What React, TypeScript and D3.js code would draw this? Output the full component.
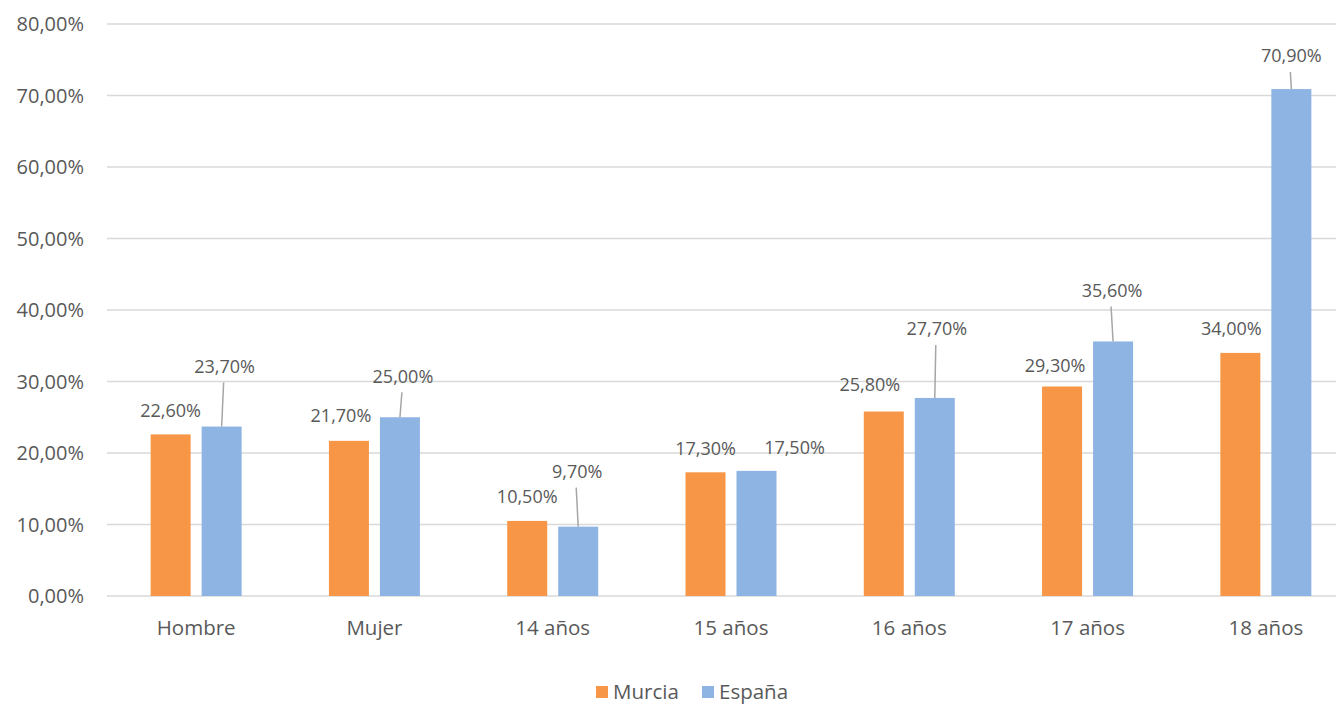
import React from "react";
import * as d3 from "d3";

const categories = ["Hombre", "Mujer", "14 años", "15 años", "16 años", "17 años", "18 años"];
const seriesNames = ["Murcia", "España"];
const murcia = [0.226, 0.217, 0.105, 0.173, 0.258, 0.293, 0.34];
const espana = [0.237, 0.25, 0.097, 0.175, 0.277, 0.356, 0.709];
const yTicks = [0, 0.1, 0.2, 0.3, 0.4, 0.5, 0.6, 0.7, 0.8];
const colors = ["#F79646", "#8EB4E3"];

// label placement offsets (styling): dx, dy relative to bar top-center
const murciaLabelOffsets = [
  [0, -24], [-8, -25], [0, -24], [0, -24], [-14, -27], [-7, -21], [-9, -24],
];
const espanaLabelOffsets = [
  [3, -60], [3, -41], [-1, -55], [38, -23], [2, -69], [-1, -51], [0, -33],
];

const W = 1336;
const H = 705;
const FONT = "'Open Sans', 'Liberation Sans', sans-serif";
const TEXT = "#595959";

export default function App() {
  const x = d3.scaleBand<string>().domain(categories).range([107, 1355]).paddingInner(0).paddingOuter(0);
  const xs = d3
    .scaleBand<string>()
    .domain(seriesNames)
    .range([0, x.bandwidth()])
    .paddingInner(11 / 51)
    .paddingOuter(0.856);
  const y = d3.scaleLinear().domain([0, 0.8]).range([596, 24]);
  const loc = d3.formatLocale({ decimal: ",", thousands: ".", grouping: [3], currency: ["", "€"] });
  const fmt = loc.format(".2%");
  const values = [murcia, espana];
  const offsets = [murciaLabelOffsets, espanaLabelOffsets];

  return (
    <svg width={W} height={H} style={{ position: "absolute", left: 0, top: 0, background: "#fff" }} fontFamily={FONT}>
      <rect width={W} height={H} fill="#fff" />
      {yTicks.map((t) => (
        <g key={t}>
          <line x1={107} x2={W} y1={y(t)} y2={y(t)} stroke="#D9D9D9" strokeWidth={1.5} />
          <text x={84} y={y(t)} dy="0.35em" textAnchor="end" fontSize={20} fill={TEXT}>
            {fmt(t)}
          </text>
        </g>
      ))}
      {values.map((vals, si) =>
        vals.map((v, ci) => {
          const bx = (x(categories[ci]) as number) + (xs(seriesNames[si]) as number);
          const bw = xs.bandwidth();
          const cx = bx + bw / 2;
          const top = y(v);
          const [dx, dy] = offsets[si][ci];
          const lx = cx + dx;
          const ly = top + dy;
          const showLeader = si === 1 && -dy > 30;
          return (
            <g key={`${si}-${ci}`}>
              <rect x={bx} y={top} width={bw} height={y(0) - top} fill={colors[si]} />
              {showLeader && (
                <line x1={lx - 1} y1={ly + 16} x2={cx} y2={top} stroke="#A6A6A6" strokeWidth={1.5} />
              )}
              <text x={lx} y={ly} dy="0.35em" textAnchor="middle" fontSize={18} fill={TEXT}>
                {fmt(v)}
              </text>
            </g>
          );
        })
      )}
      {categories.map((c) => (
        <text
          key={c}
          x={(x(c) as number) + x.bandwidth() / 2}
          y={628}
          dy="0.35em"
          textAnchor="middle"
          fontSize={20.5}
          fill={TEXT}
        >
          {c}
        </text>
      ))}
      {seriesNames.map((s, i) => {
        const lx = [596, 702][i];
        return (
          <g key={s}>
            <rect x={lx} y={686} width={12} height={12} fill={colors[i]} />
            <text x={lx + 17} y={692} dy="0.35em" fontSize={20.5} fill={TEXT}>
              {s}
            </text>
          </g>
        );
      })}
    </svg>
  );
}
